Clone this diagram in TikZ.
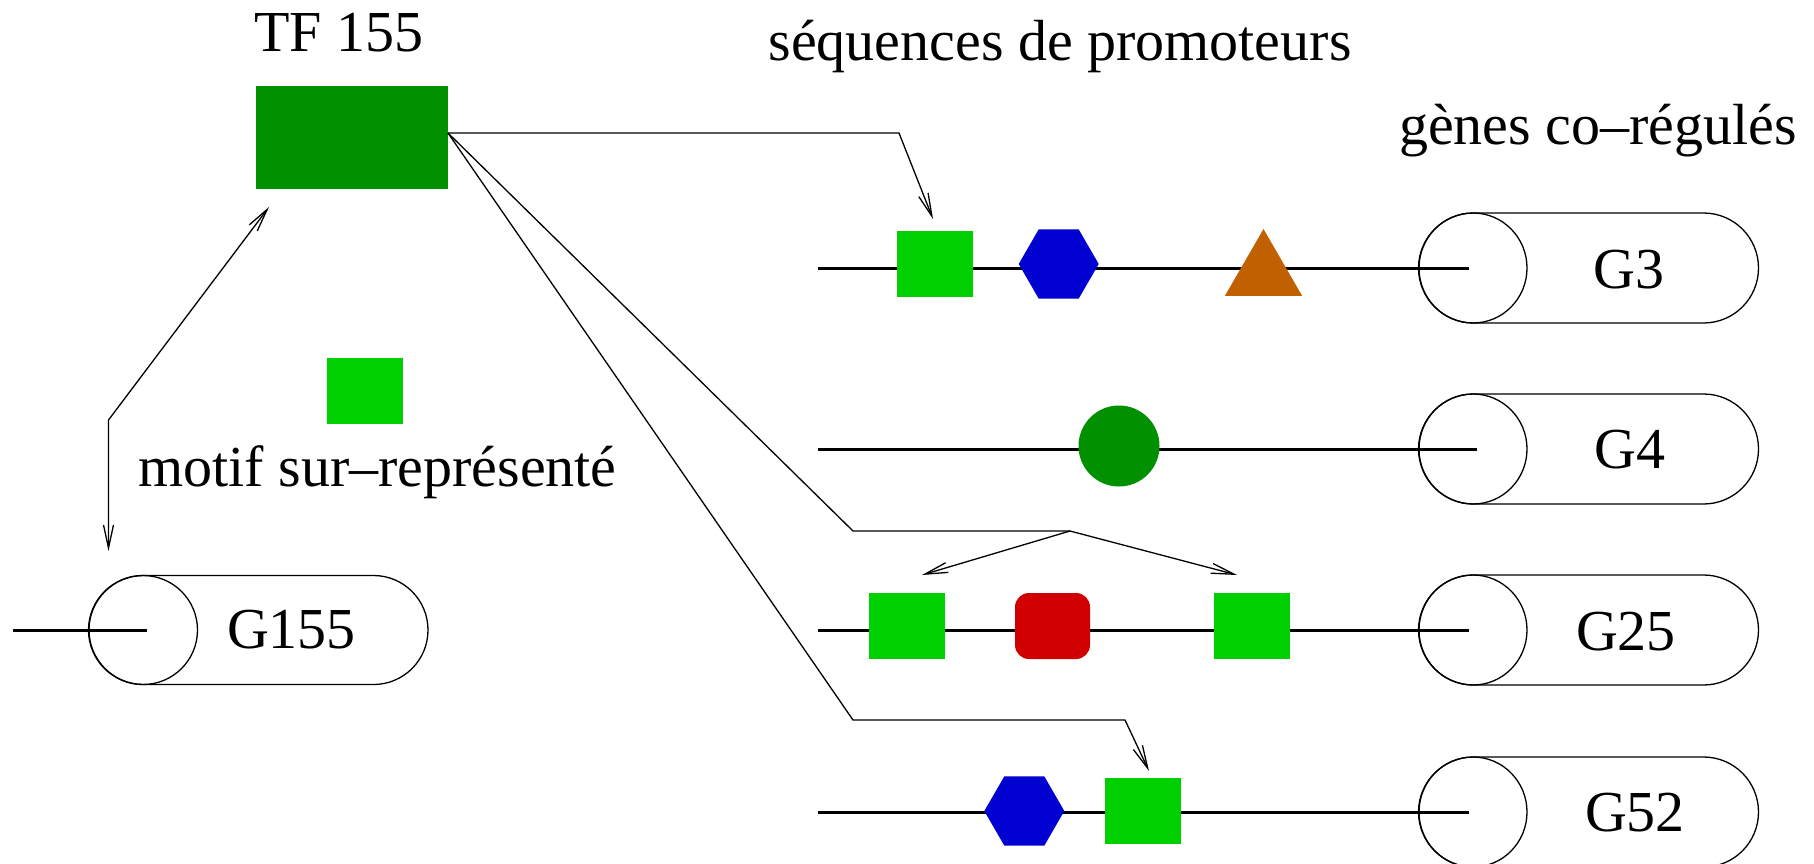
\documentclass[tikz,border=0pt]{standalone}
\usepackage{fontspec}
\setmainfont{Liberation Serif}
\usetikzlibrary{arrows.meta,shapes.geometric,shapes.misc}
\definecolor{tfgreen}{RGB}{0,144,0}
\definecolor{motifgreen}{RGB}{0,208,0}
\definecolor{hexblue}{RGB}{0,0,208}
\definecolor{triorange}{RGB}{192,96,0}
\definecolor{boxred}{RGB}{208,0,0}
\begin{document}
\begin{tikzpicture}[x=1pt,y=-1pt,
  conn/.style={line width=1.3pt, line join=miter},
  arr/.style={conn, -{Straight Barb[length=23pt,width=10pt]}},
  arrboth/.style={conn, {Straight Barb[length=23pt,width=10pt]}-{Straight Barb[length=23pt,width=10pt]}},
  dna/.style={line width=3pt},
  cylbody/.style={rounded rectangle, draw, line width=1.3pt, minimum height=110pt, minimum width=340pt, inner sep=0pt},
  lbl/.style={font=\fontsize{58}{60}\selectfont, anchor=base, inner sep=0pt},
  motifsq/.style={rectangle, fill=motifgreen, minimum width=76pt, minimum height=66pt, inner sep=0pt},
  hexa/.style={regular polygon, regular polygon sides=6, fill=hexblue, minimum size=80pt, inner sep=0pt},
  tria/.style={regular polygon, regular polygon sides=3, fill=triorange, minimum size=89pt, inner sep=0pt},
  bigdot/.style={circle, fill=tfgreen, minimum size=81pt, inner sep=0pt},
  redbox/.style={rectangle, rounded corners=14pt, fill=boxred, minimum width=75pt, minimum height=66pt, inner sep=0pt},
  tfbox/.style={rectangle, fill=tfgreen, minimum width=192pt, minimum height=102pt, inner sep=0pt}
]
\useasboundingbox (0,0) rectangle (1814,864);
\clip (0,0) rectangle (1814,864);

% titles
\node[lbl] (tftxt) at (339,52) {TF 155};
\node[lbl] (seqtxt) at (1060,61) {séquences de promoteurs};
\node[lbl] (genetxt) at (1598,145) {gènes co–régulés};
\node[lbl] (motiftxt) at (377.5,486) {motif sur–représenté};

% TF box and legend motif
\node[tfbox] (TF) at (352,137.5) {};
\node[motifsq] (legend) at (365,390.5) {};

% gene circle centres and line starts
\coordinate (c155) at (143,630);
\coordinate (c3) at (1473,268);
\coordinate (c4) at (1473,449);
\coordinate (c25) at (1473,630);
\coordinate (c52) at (1473,812);
\coordinate (s155) at (12.5,630);
\coordinate (s3) at (818,268);
\coordinate (s4) at (818,449);
\coordinate (s25) at (818,630);
\coordinate (s52) at (818,812);

% promoter lines
\draw[dna] (s155) -- ([xshift=4pt]c155);
\draw[dna] (s3) -- ([xshift=-4pt]c3);
\draw[dna] (s4) -- ([xshift=4pt]c4);
\draw[dna] (s25) -- ([xshift=-4pt]c25);
\draw[dna] (s52) -- ([xshift=-4pt]c52);

% motifs G3
\node[motifsq] (m3a) at (934.8,264) {};
\node[hexa] (m3b) at (1058.7,264) {};
\node[tria] (m3c) at (1263.5,273.5) {};
% motif G4
\node[bigdot] (m4a) at (1119,446) {};
% motifs G25
\node[motifsq] (m25a) at (907.4,626) {};
\node[redbox] (m25b) at (1052.5,626) {};
\node[motifsq] (m25c) at (1251.5,626) {};
% motifs G52
\node[hexa] (m52a) at (1024.3,811) {};
\node[motifsq] (m52b) at (1142.7,811) {};

% gene cylinders
\node[cylbody, minimum width=339pt, minimum height=109pt] (cyl155) at (258.5,630) {};
\draw[conn] (c155) circle[x radius=54.5, y radius=54.5];
\node[lbl] (g155) at (291.5,648) {G155};

\node[cylbody] (cyl3) at (1588.5,268) {};
\draw[conn] (c3) circle[x radius=54, y radius=55];
\node[lbl] (g3) at (1629,288) {G3};

\node[cylbody] (cyl4) at (1588.5,449) {};
\draw[conn] (c4) circle[x radius=54, y radius=55];
\node[lbl] (g4) at (1630,468) {G4};

\node[cylbody] (cyl25) at (1588.5,630) {};
\draw[conn] (c25) circle[x radius=54, y radius=55];
\node[lbl] (g25) at (1626,650) {G25};

\node[cylbody] (cyl52) at (1588.5,812) {};
\draw[conn] (c52) circle[x radius=54, y radius=55];
\node[lbl] (g52) at (1635,831) {G52};

% connectors
\coordinate (tfout) at (448,133);
\coordinate (t3) at (933,219);
\coordinate (br) at (1070,531);
\coordinate (t25a) at (922,575);
\coordinate (t25b) at (1237,575);
\coordinate (t52) at (1149,771);
\coordinate (tTF) at (269,207);
\coordinate (tG155) at (108.5,551);

\draw[arr] (tfout) -- (899,133) -- (t3);
\draw[conn] (tfout) -- (853,531) -- (br);
\draw[arr] (br) -- (t25a);
\draw[arr] (br) -- (t25b);
\draw[arr] (tfout) -- (853,720) -- (1125,720) -- (t52);
\draw[arrboth] (tTF) -- (108.5,420) -- (tG155);
\end{tikzpicture}
\end{document}
